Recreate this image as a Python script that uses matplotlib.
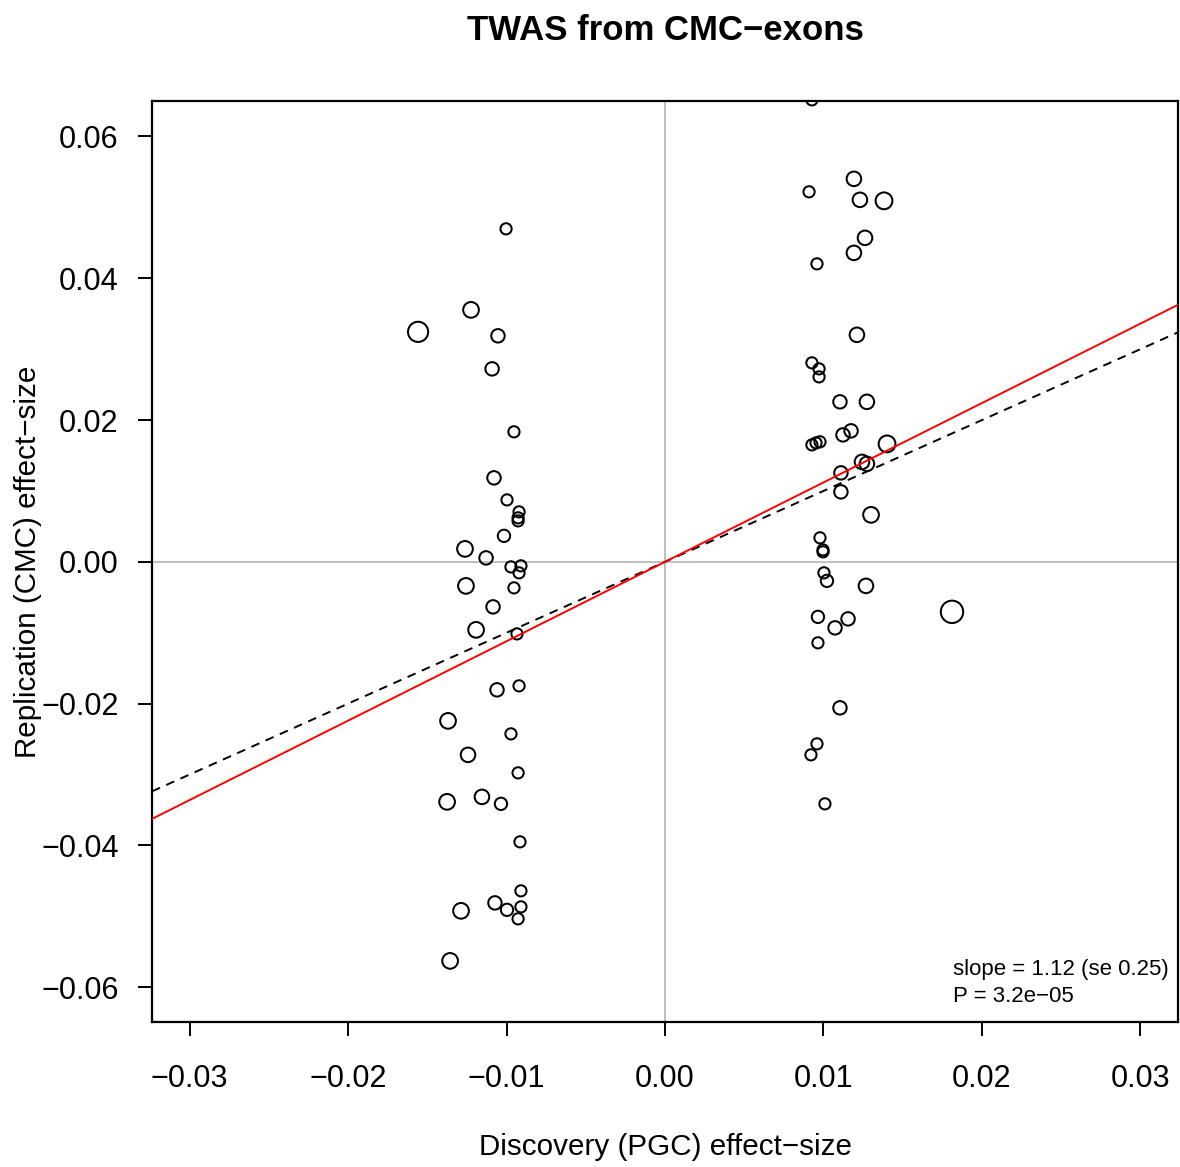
import matplotlib
matplotlib.use("Agg")
import matplotlib.pyplot as plt
import numpy as np

plt.rcParams['font.family'] = ['Liberation Sans', 'DejaVu Sans']

# Discovery (PGC) effect sizes
disc = [
    -0.01003, -0.01224, -0.01558, -0.01054, -0.01091, -0.00953, -0.01079, -0.00997,
    -0.00921, -0.00927, -0.00927, -0.01016, -0.01262, -0.01129, -0.00972, -0.00909,
    -0.00921, -0.01256, -0.00953, -0.01085, -0.01192, -0.00934, -0.00921, -0.01060,
    -0.01369, -0.00972, -0.01243, -0.00927, -0.01155, -0.01375, -0.01035, -0.00915,
    -0.00909, -0.01073, -0.00997, -0.00909, -0.00927, -0.01287, -0.01356,
    0.00927, 0.01192, 0.00909, 0.01230, 0.01382, 0.01262, 0.01192, 0.00959,
    0.01211, 0.00927, 0.00972, 0.00972, 0.01104, 0.01274, 0.00927, 0.00953,
    0.00978, 0.01123, 0.01174, 0.01401, 0.01243, 0.01274, 0.01110, 0.01110,
    0.01300, 0.00978, 0.00997, 0.00997, 0.01268, 0.01003, 0.01022, 0.01811,
    0.00965, 0.01155, 0.01073, 0.00965, 0.01104, 0.00959, 0.00921, 0.01009,
]
# Replication (CMC) effect sizes
repl = [
    0.04697, 0.03554, 0.03244, 0.03188, 0.02722, 0.01834, 0.01185, 0.00874,
    0.00705, 0.00621, 0.00578, 0.00367, 0.00183, 0.00056, -0.00071, -0.00056,
    -0.00155, -0.00339, -0.00367, -0.00635, -0.00959, -0.01016, -0.01749, -0.01805,
    -0.02243, -0.02426, -0.02722, -0.02976, -0.03315, -0.03385, -0.03413, -0.03949,
    -0.04640, -0.04810, -0.04908, -0.04866, -0.05035, -0.04922, -0.05628,
    0.06516, 0.05402, 0.05219, 0.05106, 0.05092, 0.04570, 0.04358, 0.04203,
    0.03202, 0.02807, 0.02722, 0.02609, 0.02257, 0.02257, 0.01650, 0.01678,
    0.01693, 0.01791, 0.01848, 0.01664, 0.01410, 0.01382, 0.01255, 0.00987,
    0.00663, 0.00339, 0.00169, 0.00141, -0.00339, -0.00155, -0.00268, -0.00705,
    -0.00776, -0.00804, -0.00931, -0.01142, -0.02059, -0.02567, -0.02722, -0.03413,
]
# point weight (relative symbol size)
weight = [
    5, 7, 9, 6, 6, 5, 6, 5,
    5, 5, 5, 5.5, 7, 6, 5, 5,
    5, 7, 5, 6, 7, 5, 5, 6,
    7, 5, 6.5, 5, 6.5, 7, 5.5, 5,
    5, 6, 5.5, 5, 5, 7, 7,
    5, 6.5, 5, 6.5, 7.5, 6.5, 6.5, 5,
    6.5, 5, 5, 5, 6, 6.5, 5, 5,
    5, 6, 6, 7.5, 6.5, 6.5, 6, 6,
    7, 5, 5, 5, 6.5, 5, 5.5, 10,
    5.5, 6, 6, 5, 6, 5, 5, 5,
]

slope = 1.12
slope_se = 0.25
pval_text = "3.2e\u221205"

xticks = [-0.03, -0.02, -0.01, 0.00, 0.01, 0.02, 0.03]
xticklabels = ["\u22120.03", "\u22120.02", "\u22120.01", "0.00", "0.01", "0.02", "0.03"]
yticks = [-0.06, -0.04, -0.02, 0.00, 0.02, 0.04, 0.06]
yticklabels = ["\u22120.06", "\u22120.04", "\u22120.02", "0.00", "0.02", "0.04", "0.06"]

W, H, DPI = 1180, 1167, 100
fig = plt.figure(figsize=(W / DPI, H / DPI), dpi=DPI)
ax = fig.add_axes([152 / W, 1 - 1022 / H, (1178 - 152) / W, (1022 - 101) / H])

xlim = (-0.03237, 0.03237)
ylim = (-0.0649, 0.0650)
ax.set_xlim(*xlim)
ax.set_ylim(*ylim)

ax.axhline(0, color="#BEBEBE", lw=1.4, zorder=1)
ax.axvline(0, color="#BEBEBE", lw=1.4, zorder=1)

w = np.array(weight)
sizes = (2 * w * 0.72 * 1.12) ** 2
ax.scatter(disc, repl, s=sizes, facecolors="none", edgecolors="black", linewidths=1.45, zorder=2)

xs = np.array(xlim)
ax.plot(xs, xs, color="black", lw=1.4, ls=(0, (4.5, 3.5)), zorder=3)
ax.plot(xs, slope * xs, color="red", lw=1.4, zorder=3)

for sp in ax.spines.values():
    sp.set_linewidth(1.6)

ax.set_xticks(xticks)
ax.set_xticklabels(xticklabels)
ax.set_yticks(yticks)
ax.set_yticklabels(yticklabels)
ax.tick_params(axis="both", length=10, width=1.4, labelsize=22)
ax.tick_params(axis="x", pad=20)
ax.tick_params(axis="y", pad=14)

fig.text(665 / W, 1 - 1147 / H, "Discovery (PGC) effect\u2212size", ha="center", va="center", fontsize=21.3)
fig.text(28 / W, 1 - 562 / H, "Replication (CMC) effect\u2212size", ha="center", va="center",
         rotation=90, fontsize=21.3)
fig.text(665 / W, 1 - 30 / H, "TWAS from CMC\u2212exons", ha="center", va="center",
         fontsize=25, fontweight="bold")

ax.text((953 - 152) / (1178 - 152), (1022 - 983) / (1022 - 101),
        f"slope = {slope:.2f} (se {slope_se:.2f})\nP = {pval_text}",
        transform=ax.transAxes, ha="left", va="center", fontsize=16, linespacing=1.35)

fig.savefig("out.png", dpi=DPI)
